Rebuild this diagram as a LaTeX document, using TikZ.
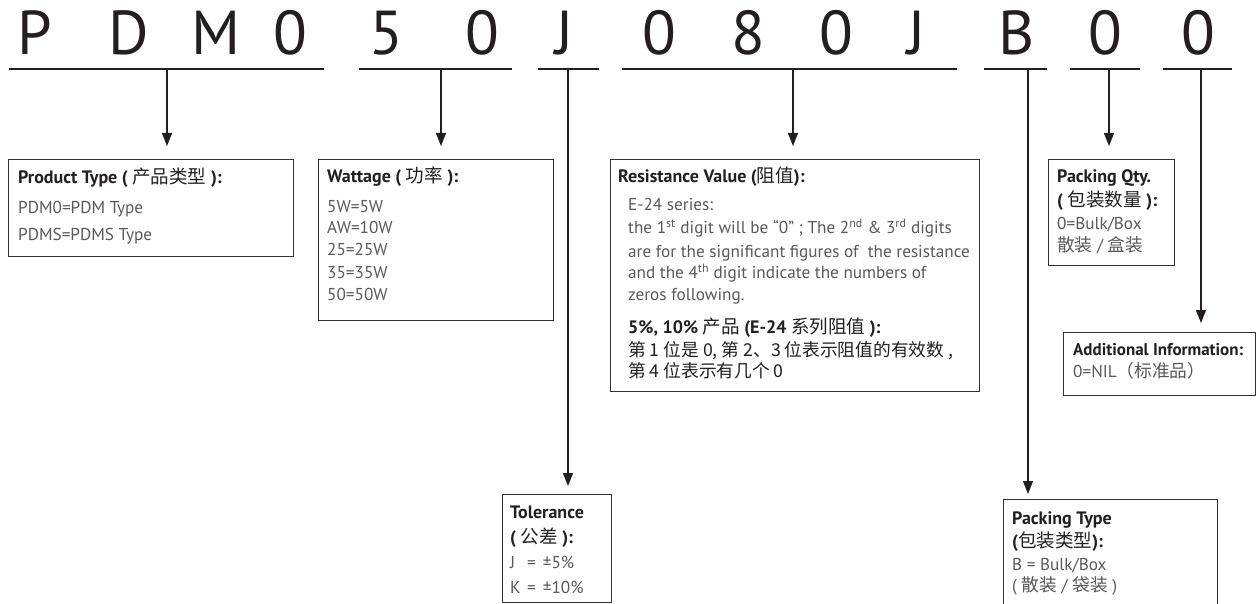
\documentclass[tikz,border=0pt]{standalone}
\usepackage{fontspec}
\setmainfont{PT Sans}
\newfontfamily\cjk[Scale=1.03]{Noto Sans CJK SC}
\usetikzlibrary{arrows.meta}
\definecolor{ink}{HTML}{231F20}
\definecolor{bodytxt}{HTML}{58595B}
\definecolor{frame}{HTML}{333333}
\begin{document}
\begin{tikzpicture}[x=1pt,y=-1pt,
  big/.style={font=\fontsize{62}{62}\selectfont, text=ink, anchor=base, inner sep=0},
  uline/.style={line width=1.8pt, draw=ink},
  conn/.style={line width=1.3pt, draw=ink, -{Triangle[length=13pt,width=10pt]}},
  boxst/.style={draw=frame, line width=1pt, anchor=north west, inner sep=0},
  hd/.style={font=\fontsize{18}{18}\selectfont\bfseries, text=ink, anchor=base west, inner sep=0},
  bd/.style={font=\fontsize{17.2}{18}\selectfont, text=bodytxt, anchor=base west, inner sep=0}
]
\useasboundingbox (0,0) rectangle (1259,604);
\clip (0,0) rectangle (1259,604);
\fill[white] (0,0) rectangle (1259,604);

% top code letters
\node[big] (cP) at (35,55) {P};
\node[big] (cD) at (129,55) {D};
\node[big] (cM) at (216,55) {M};
\node[big] (c0a) at (290,55) {0};
\node[big] (c5) at (386,55) {5};
\node[big] (c0b) at (482,55) {0};
\node[big] (cJa) at (565,55) {J};
\node[big] (c0c) at (659,55) {0};
\node[big] (c8) at (748,55) {8};
\node[big] (c0d) at (836,55) {0};
\node[big] (cJb) at (917,55) {J};
\node[big] (cB) at (1017,55) {B};
\node[big] (c0e) at (1105,55) {0};
\node[big] (c0f) at (1198,55) {0};

% underlines
\coordinate (s1a) at (9,69);   \coordinate (s1b) at (324,69);
\coordinate (s2a) at (359,69); \coordinate (s2b) at (512,69);
\coordinate (s3a) at (538,69); \coordinate (s3b) at (599,69);
\coordinate (s4a) at (622,69); \coordinate (s4b) at (957,69);
\coordinate (s5a) at (984,69); \coordinate (s5b) at (1047,69);
\coordinate (s6a) at (1070,69); \coordinate (s6b) at (1140,69);
\coordinate (s7a) at (1163,69); \coordinate (s7b) at (1232,69);
\draw[uline] (s1a) -- (s1b);
\draw[uline] (s2a) -- (s2b);
\draw[uline] (s3a) -- (s3b);
\draw[uline] (s4a) -- (s4b);
\draw[uline] (s5a) -- (s5b);
\draw[uline] (s6a) -- (s6b);
\draw[uline] (s7a) -- (s7b);

% connector start / end points
\coordinate (u1) at (167,69);  \coordinate (a1) at (167,146);
\coordinate (u2) at (441,69);  \coordinate (a2) at (441,146);
\coordinate (u3) at (568,69);  \coordinate (a3) at (568,486);
\coordinate (u4) at (793,69);  \coordinate (a4) at (793,146);
\coordinate (u5) at (1028,69); \coordinate (a5) at (1028,494);
\coordinate (u6) at (1109,69); \coordinate (a6) at (1109,146);
\coordinate (u7) at (1201,69); \coordinate (a7) at (1201,323);
\draw[conn] (u1) -- (a1);
\draw[conn] (u2) -- (a2);
\draw[conn] (u3) -- (a3);
\draw[conn] (u4) -- (a4);
\draw[conn] (u5) -- (a5);
\draw[conn] (u6) -- (a6);
\draw[conn] (u7) -- (a7);

% boxes
\node[boxst, minimum width=285pt, minimum height=97pt] (bprod) at (8,159) {};
\node[boxst, minimum width=235pt, minimum height=161pt] (bwatt) at (318,159) {};
\node[boxst, minimum width=369pt, minimum height=232pt] (bres) at (610,159) {};
\node[boxst, minimum width=126pt, minimum height=106pt] (bqty) at (1048,159) {};
\node[boxst, minimum width=192pt, minimum height=63pt] (badd) at (1063,332) {};
\node[boxst, minimum width=109pt, minimum height=108pt] (btol) at (502,494) {};
\node[boxst, minimum width=214pt, minimum height=130pt] (bpack) at (1003,499) {};

% Product type
\node[hd] (tp0) at (18,184) {Product Type ( {\cjk\mdseries 产品类型} ):};
\node[bd] (tp1) at (18,214) {PDM0=PDM Type};
\node[bd] (tp2) at (18,241) {PDMS=PDMS Type};

% Wattage
\node[hd] (tw0) at (327,183) {Wattage ( {\cjk\mdseries 功率} ):};
\node[bd] (tw1) at (327,213) {5W=5W};
\node[bd] (tw2) at (327,234) {AW=10W};
\node[bd] (tw3) at (327,256) {25=25W};
\node[bd] (tw4) at (327,279) {35=35W};
\node[bd] (tw5) at (327,301) {50=50W};

% Resistance
\node[hd] (tr0) at (618,183) {Resistance Value ({\cjk\mdseries 阻值}):};
\node[bd] (tr1) at (628,211) {E-24 series:};
\node[bd] (tr2) at (628,234) {the 1\textsuperscript{st} digit will be “0” ; The 2\textsuperscript{nd} \& 3\textsuperscript{rd} digits};
\node[bd] (tr3) at (628,258) {are for the significant figures of\ \ the resistance};
\node[bd] (tr4) at (628,279) {and the 4\textsuperscript{th} digit indicate the numbers of};
\node[bd] (tr5) at (628,301) {zeros following.};
\node[hd] (tr6) at (628,333) {5\%, 10\% {\cjk\mdseries 产品} (E-24 {\cjk\mdseries 系列阻值} ):};
\node[bd, text=ink] (tr7) at (628,356) {\cjk 第 1 位是 0, 第 2、3 位表示阻值的有效数 ,};
\node[bd, text=ink] (tr8) at (628,377) {\cjk 第 4 位表示有几个 0};

% Packing qty
\node[hd] (tq0) at (1057,183) {Packing Qty.};
\node[hd] (tq1) at (1057,207) {( {\cjk\mdseries 包装数量} ):};
\node[bd] (tq2) at (1057,230) {0=Bulk/Box};
\node[bd] (tq3) at (1057,252) {{\cjk 散装} / {\cjk 盒装}};

% Additional info
\node[hd, font=\fontsize{17}{18}\selectfont\bfseries] (ta0) at (1073,355) {Additional Information:};
\node[bd] (ta1) at (1073,377) {0=NIL{\cjk （标准品）}};

% Tolerance
\node[hd] (tt0) at (510,518) {Tolerance};
\node[hd] (tt1) at (510,543) {( {\cjk\mdseries 公差} ):};
\node[bd] (tt2) at (510,568) {\makebox[17pt][l]{J}=\hspace{7pt}±5\%};
\node[bd] (tt3) at (510,593) {\makebox[17pt][l]{K}=\hspace{7pt}±10\%};

% Packing type
\node[hd] (tk0) at (1012,524) {Packing Type};
\node[hd] (tk1) at (1012,547) {({\cjk\mdseries 包装类型}):};
\node[bd] (tk2) at (1012,570) {B = Bulk/Box};
\node[bd] (tk3) at (1012,591) {( {\cjk 散装} / {\cjk 袋装} )};
\end{tikzpicture}
\end{document}
